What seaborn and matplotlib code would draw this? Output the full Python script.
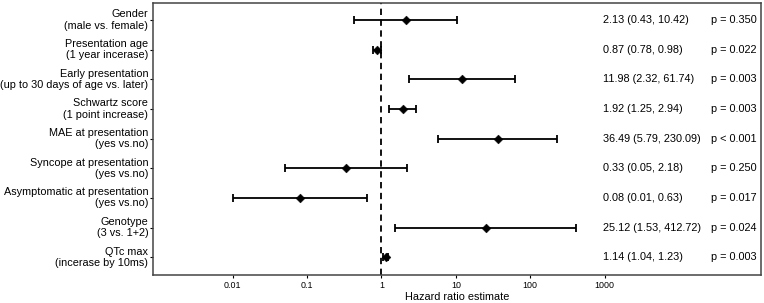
import numpy as np
import pandas as pd
import matplotlib
matplotlib.use("Agg")
import matplotlib.pyplot as plt
import seaborn as sns

# ---- data ----
labels = [
    "Gender\n(male vs. female)",
    "Presentation age\n(1 year incerase)",
    "Early presentation\n(up to 30 days of age vs. later)",
    "Schwartz score\n(1 point increase)",
    "MAE at presentation\n(yes vs.no)",
    "Syncope at presentation\n(yes vs.no)",
    "Asymptomatic at presentation\n(yes vs.no)",
    "Genotype\n(3 vs. 1+2)",
    "QTc max\n(incerase by 10ms)",
]
hr = [2.13, 0.87, 11.98, 1.92, 36.49, 0.33, 0.08, 25.12, 1.14]
lower = [0.43, 0.78, 2.32, 1.25, 5.79, 0.05, 0.01, 1.53, 1.04]
upper = [10.42, 0.98, 61.74, 2.94, 230.09, 2.18, 0.63, 412.72, 1.23]
pvals = ["p = 0.350", "p = 0.022", "p = 0.003", "p = 0.003", "p < 0.001",
         "p = 0.250", "p = 0.017", "p = 0.024", "p = 0.003"]
xticks = [0.01, 0.1, 1, 10, 100, 1000]
xticklabels = ["0.01", "0.1", "1", "10", "100", "1000"]

df = pd.DataFrame({"label": labels, "hr": hr, "lo": lower, "hi": upper, "p": pvals})
df["pos"] = np.arange(len(df))

sns.set_style("white", {"text.color": "black", "axes.labelcolor": "black",
                        "xtick.color": "black", "ytick.color": "black"})
plt.rcParams["font.family"] = ["Liberation Sans", "DejaVu Sans"]

fig, ax = plt.subplots(figsize=(7.64, 3.03), dpi=100)
fig.subplots_adjust(left=0.2003, right=0.996, top=0.99, bottom=0.0924)

# confidence intervals
ax.errorbar(df["hr"], df["pos"],
            xerr=[df["hr"] - df["lo"], df["hi"] - df["hr"]],
            fmt="none", ecolor="black", elinewidth=1.3, capsize=2.8, capthick=1.3)
sns.scatterplot(data=df, x="hr", y="pos", marker="D", color="black",
                s=20, edgecolor="black", ax=ax, zorder=3, legend=False)

ax.axvline(1, color="black", linestyle=(0, (3.5, 2.5)), linewidth=1.3, zorder=1)

ax.set_xscale("log")
ax.set_xlim(10 ** -3.07, 10 ** 5.1)
ax.set_ylim(len(df) - 0.4, -0.57)
ax.set_xticks(xticks)
ax.set_xticklabels(xticklabels)
ax.minorticks_off()
ax.set_yticks(df["pos"])
ax.set_yticklabels(df["label"], fontsize=7.8, linespacing=1.15)
for t in ax.get_yticklabels():
    t.set_verticalalignment("center")
ax.tick_params(axis="x", labelsize=6.4, length=2.5, width=0.8, direction="out", pad=2, bottom=True)
ax.tick_params(axis="y", length=2.5, width=0.8, direction="out", pad=1, left=True)
ax.set_xlabel("Hazard ratio estimate", fontsize=7.8, labelpad=1)
ax.set_ylabel("")

for s in ax.spines.values():
    s.set_color("#444444")
    s.set_linewidth(1.1)

# estimate and p-value columns
tr = ax.get_yaxis_transform()
for _, r in df.iterrows():
    ax.text(0.74, r["pos"], f"{r['hr']:.2f} ({r['lo']:.2f}, {r['hi']:.2f})",
            transform=tr, va="center", ha="left", fontsize=7.8)
    ax.text(0.918, r["pos"], r["p"], transform=tr, va="center", ha="left", fontsize=7.8)

plt.savefig("out.png", dpi=100)
